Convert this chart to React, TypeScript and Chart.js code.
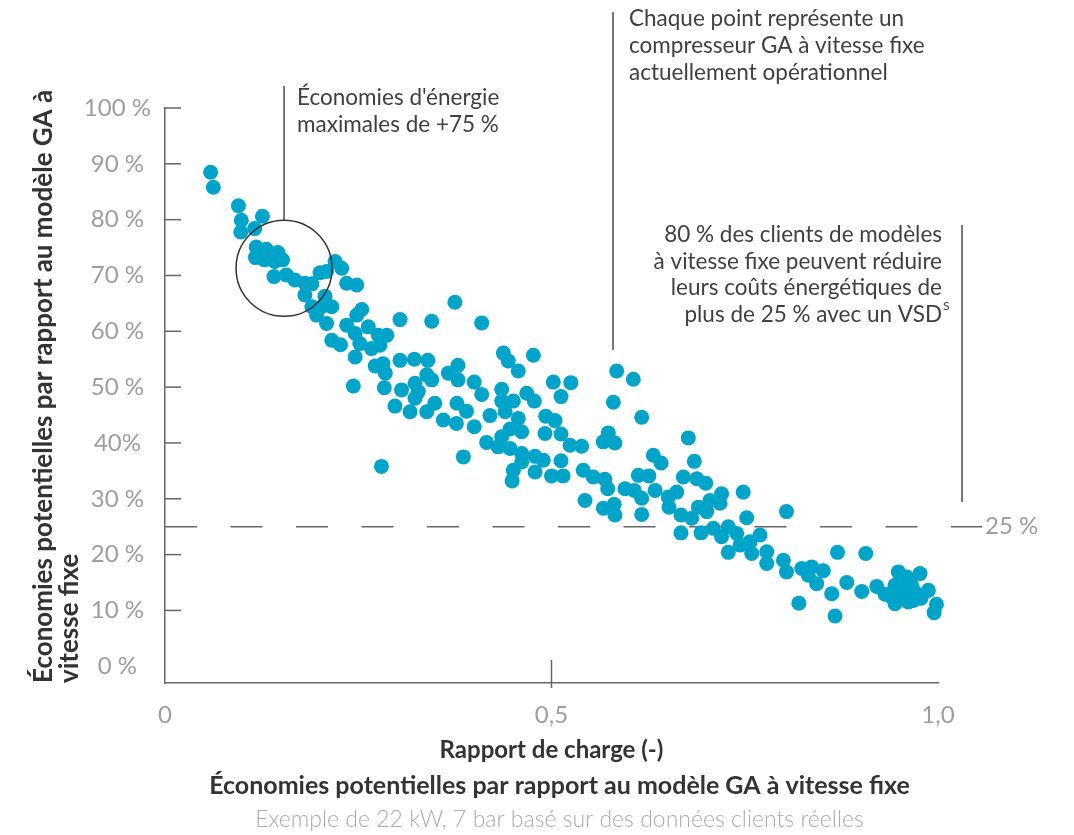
import React, { useEffect, useRef } from 'react';
import { Chart, registerables } from 'chart.js';

Chart.register(...registerables);

// ---- Data ----
const loadRatio = [
  0.059, 0.0625, 0.095, 0.0987, 0.126, 0.098, 0.116, 0.118, 0.117, 0.131,
  0.146, 0.129, 0.142, 0.152, 0.141, 0.157, 0.168, 0.181, 0.19, 0.181,
  0.2005, 0.209, 0.22, 0.2286, 0.207, 0.19, 0.2027, 0.2157, 0.196, 0.209,
  0.2157, 0.227, 0.235, 0.248, 0.375, 0.2545, 0.248, 0.304, 0.345, 0.235,
  0.263, 0.246, 0.276, 0.287, 0.252, 0.267, 0.278, 0.246, 0.272, 0.282,
  0.285, 0.304, 0.3225, 0.34, 0.379, 0.2436, 0.2837, 0.306, 0.3234, 0.3386,
  0.3277, 0.345, 0.3665, 0.379, 0.2975, 0.317, 0.3386, 0.3234, 0.349, 0.36,
  0.3777, 0.377, 0.386, 0.28, 0.4097, 0.4377, 0.444, 0.4765, 0.457, 0.4,
  0.4097, 0.4356, 0.4356, 0.4506, 0.468, 0.4778, 0.5023, 0.525, 0.5123, 0.39,
  0.4204, 0.44, 0.457, 0.4463, 0.4614, 0.4, 0.416, 0.4356, 0.431, 0.4463,
  0.4614, 0.4614, 0.4787, 0.4894, 0.4925, 0.5045, 0.4916, 0.5123, 0.524, 0.539,
  0.5123, 0.4787, 0.5, 0.515, 0.4506, 0.449, 0.541, 0.5433, 0.5843, 0.6058,
  0.58, 0.6167, 0.5735, 0.567, 0.582, 0.677, 0.6317, 0.6417, 0.6847, 0.554,
  0.569, 0.5727, 0.6123, 0.626, 0.6705, 0.688, 0.595, 0.607, 0.6167, 0.634,
  0.662, 0.651, 0.652, 0.567, 0.581, 0.582, 0.6167, 0.6675, 0.6814, 0.69,
  0.6675, 0.6934, 0.6995, 0.72, 0.748, 0.705, 0.718, 0.7008, 0.7525, 0.804,
  0.7093, 0.72, 0.7287, 0.7396, 0.7287, 0.7439, 0.7568, 0.7697, 0.759, 0.7784,
  0.7784, 0.8, 0.804, 0.8237, 0.8366, 0.8322, 0.843, 0.82, 0.87, 0.9065,
  0.8516, 0.882, 0.8625, 0.9013, 0.9207, 0.9314, 0.8668, 0.9487, 0.9595, 0.9767,
  0.9444, 0.955, 0.966, 0.97, 0.9875, 0.94, 0.953, 0.968, 0.9444, 0.9616,
  0.998, 0.995, 0.978,
];

const savings = [
  88.5, 85.8, 82.5, 79.9, 80.6, 77.8, 78.4, 75.1, 73.2, 74.7,
  74.1, 72.8, 72.5, 72.8, 69.8, 70.1, 69.2, 68.6, 68.5, 66.5,
  70.5, 70.7, 72.5, 71.3, 66.3, 64.4, 64.4, 64.4, 62.9, 61.4,
  58.4, 57.6, 68.6, 68.3, 65.2, 63.9, 62.9, 62.1, 61.8, 61.1,
  60.8, 59.6, 59.3, 59.3, 57.8, 56.9, 57.5, 55.4, 53.8, 54.2,
  52.5, 54.8, 55.0, 54.8, 53.9, 50.2, 49.9, 49.5, 50.7, 52.2,
  49.2, 51.3, 52.5, 51.3, 46.6, 45.6, 45.6, 48.0, 47.1, 44.1,
  47.1, 43.5, 37.5, 35.8, 61.5, 56.1, 54.7, 55.7, 52.9, 50.9,
  48.7, 49.6, 47.5, 47.5, 48.9, 47.5, 50.9, 50.8, 48.3, 45.7,
  44.9, 45.6, 44.4, 42.5, 42.0, 42.9, 40.1, 41.1, 39.3, 39.0,
  38.1, 36.6, 37.6, 36.9, 44.8, 44.0, 41.7, 41.6, 39.6, 39.4,
  36.8, 34.8, 34.1, 34.1, 35.1, 33.2, 35.1, 29.7, 52.9, 51.4,
  47.3, 44.6, 41.8, 40.2, 40.0, 40.9, 37.8, 36.4, 36.7, 33.9,
  33.5, 31.8, 34.2, 34.1, 33.9, 33.6, 31.8, 31.5, 30.1, 31.5,
  31.2, 30.3, 28.5, 28.3, 29.0, 27.1, 27.2, 27.1, 26.5, 28.5,
  23.9, 23.9, 32.8, 30.9, 31.2, 29.7, 29.2, 27.7, 26.6, 27.7,
  24.7, 23.2, 25.0, 23.8, 20.4, 21.7, 22.3, 23.5, 20.2, 20.5,
  18.4, 19.0, 16.9, 17.5, 17.8, 16.3, 14.8, 11.3, 20.4, 20.2,
  17.1, 15.0, 13.0, 13.4, 14.3, 12.9, 9.0, 16.9, 16.0, 16.6,
  14.5, 14.2, 14.5, 13.3, 13.6, 12.4, 12.4, 11.8, 11.2, 11.5,
  11.1, 9.6, 12.2,
];

const yTickValues = [0, 10, 20, 30, 40, 50, 60, 70, 80, 90, 100];
const yTickLabels = ['0 %', '10 %', '20 %', '30 %', '40%', '50 %', '60 %', '70 %', '80 %', '90 %', '100 %'];
const xTickValues = [0, 0.5, 1];
const xTickLabels = ['0', '0,5', '1,0'];

const yAxisTitle = ['Économies potentielles par rapport au modèle GA à', 'vitesse fixe'];
const xAxisTitle = 'Rapport de charge (-)';
const chartTitle = 'Économies potentielles par rapport au modèle GA à vitesse fixe';
const chartSubtitle = 'Exemple de 22 kW, 7 bar basé sur des données clients réelles';

const noteMaxLines = ["Économies d'énergie", 'maximales de +75 %'];
const notePointLines = ['Chaque point représente un', 'compresseur GA à vitesse fixe', 'actuellement opérationnel'];
const noteVsdLines = ['80 % des clients de modèles', 'à vitesse fixe peuvent réduire', 'leurs coûts énergétiques de', 'plus de 25 % avec un VSD'];
const noteVsdSup = 'S';

const thresholdValue = 25;
const thresholdLabel = '25 %';
const maxSavingsLoad = 0.154;
const maxSavingsValue = 71.3;

const FONT = 'Lato, "Noto Sans", sans-serif';
const POINT_COLOR = '#00a4c8';
const AXIS_COLOR = '#666666';
const TICK_TEXT = '#9d9d9d';
const DARK_TEXT = '#333333';
const NOTE_TEXT = '#404040';

const annotationPlugin = {
  id: 'annotationPlugin',
  beforeDatasetsDraw(chart: any) {
    const { ctx, chartArea, scales } = chart;
    const x = scales.x;
    const y = scales.y;
    ctx.save();
    ctx.strokeStyle = AXIS_COLOR;
    ctx.lineWidth = 1.5;
    // inner y ticks
    yTickValues.forEach((v) => {
      if (v === 0) return;
      const py = y.getPixelForValue(v);
      ctx.beginPath();
      ctx.moveTo(chartArea.left, py);
      ctx.lineTo(chartArea.left + 16, py);
      ctx.stroke();
    });
    // middle x tick
    const mx = x.getPixelForValue(0.5);
    ctx.beginPath();
    ctx.moveTo(mx, chartArea.bottom - 23);
    ctx.lineTo(mx, chartArea.bottom + 5);
    ctx.stroke();
    // threshold dashed line
    const ty = y.getPixelForValue(thresholdValue);
    ctx.setLineDash([32, 33.5]);
    ctx.beginPath();
    ctx.moveTo(chartArea.left, ty);
    ctx.lineTo(982, ty);
    ctx.stroke();
    ctx.setLineDash([]);
    ctx.fillStyle = TICK_TEXT;
    ctx.font = `24px ${FONT}`;
    ctx.textAlign = 'left';
    ctx.textBaseline = 'middle';
    ctx.fillText(thresholdLabel, 985, ty);

    // rotated y-axis title, starting at the bottom of the axis
    ctx.save();
    ctx.translate(44, chartArea.bottom);
    ctx.rotate(-Math.PI / 2);
    ctx.fillStyle = DARK_TEXT;
    ctx.font = `bold 26px ${FONT}`;
    ctx.textAlign = 'left';
    ctx.textBaseline = 'middle';
    yAxisTitle.forEach((t, i) => ctx.fillText(t, 0, i * 26));
    ctx.restore();
    ctx.restore();
  },
  afterDatasetsDraw(chart: any) {
    const { ctx, scales } = chart;
    const x = scales.x;
    const y = scales.y;
    ctx.save();
    // circle around the maximum savings cluster
    const cx = x.getPixelForValue(maxSavingsLoad);
    const cy = y.getPixelForValue(maxSavingsValue);
    const r = 48;
    ctx.strokeStyle = '#333333';
    ctx.lineWidth = 1.5;
    ctx.beginPath();
    ctx.arc(cx, cy, r, 0, Math.PI * 2);
    ctx.stroke();
    ctx.strokeStyle = '#4a4a4a';
    ctx.beginPath();
    ctx.moveTo(cx, 86);
    ctx.lineTo(cx, cy - r);
    ctx.stroke();

    // leader lines for the other notes
    ctx.beginPath();
    ctx.moveTo(613, 12);
    ctx.lineTo(613, 350);
    ctx.stroke();
    ctx.beginPath();
    ctx.moveTo(962, 225);
    ctx.lineTo(962, 502);
    ctx.stroke();

    ctx.fillStyle = NOTE_TEXT;
    ctx.font = `22.5px ${FONT}`;
    ctx.textBaseline = 'middle';
    ctx.textAlign = 'left';
    noteMaxLines.forEach((t, i) => ctx.fillText(t, cx + 13, 98 + i * 27));
    notePointLines.forEach((t, i) => ctx.fillText(t, 629, 19 + i * 27));
    ctx.textAlign = 'right';
    noteVsdLines.forEach((t, i) => ctx.fillText(t, 942, 235 + i * 26.5));
    ctx.textAlign = 'left';
    ctx.font = `12px ${FONT}`;
    ctx.fillText(noteVsdSup, 943, 235 + 3 * 26.5 - 8);

    // bottom titles
    ctx.textAlign = 'center';
    ctx.fillStyle = DARK_TEXT;
    ctx.font = `bold 25px ${FONT}`;
    ctx.fillText(chartTitle, 559.5, 786);
    ctx.fillStyle = '#ababab';
    ctx.font = `300 23px ${FONT}`;
    ctx.fillText(chartSubtitle, 559.5, 820);
    ctx.restore();
  },
};

export default function App() {
  const canvasRef = useRef<HTMLCanvasElement>(null);

  useEffect(() => {
    const canvas = canvasRef.current;
    if (!canvas) return;
    const points = loadRatio.map((lr, i) => ({ x: lr, y: savings[i] }));
    const chart = new Chart(canvas, {
      type: 'scatter',
      data: {
        datasets: [
          {
            data: points,
            backgroundColor: POINT_COLOR,
            borderWidth: 0,
            pointRadius: 7.5,
            pointHoverRadius: 7.5,
            clip: false as any,
          },
        ],
      },
      options: {
        responsive: false,
        devicePixelRatio: 1,
        animation: false,
        events: [],
        layout: { padding: { left: 0, top: 108, right: 136, bottom: 70 } },
        plugins: {
          legend: { display: false },
          tooltip: { enabled: false },
          title: { display: false },
        },
        scales: {
          x: {
            type: 'linear',
            min: 0,
            max: 1,
            afterBuildTicks: (scale: any) => {
              scale.ticks = xTickValues.map((v) => ({ value: v }));
            },
            afterFit: (scale: any) => {
              scale.height = 82;
            },
            grid: { display: false, drawTicks: false },
            border: { display: true, color: AXIS_COLOR, width: 1.5 },
            ticks: {
              autoSkip: false,
              maxRotation: 0,
              padding: 18,
              color: TICK_TEXT,
              font: { family: FONT, size: 24 },
              callback: (value: any) => {
                const i = xTickValues.indexOf(Number(value));
                return i >= 0 ? xTickLabels[i] : '';
              },
            },
            title: {
              display: true,
              text: xAxisTitle,
              color: DARK_TEXT,
              font: { family: FONT, size: 24, weight: 'bold' },
              padding: { top: 0, bottom: 0 },
            },
          },
          y: {
            type: 'linear',
            min: -3,
            max: 100,
            afterBuildTicks: (scale: any) => {
              scale.ticks = yTickValues.map((v) => ({ value: v }));
            },
            afterFit: (scale: any) => {
              scale.width = 165;
            },
            grid: { display: false, drawTicks: false },
            border: { display: true, color: AXIS_COLOR, width: 1.5 },
            ticks: {
              autoSkip: false,
              padding: 14,
              crossAlign: 'center',
              color: TICK_TEXT,
              font: { family: FONT, size: 24 },
              callback: (value: any) => {
                const i = yTickValues.indexOf(Number(value));
                return i >= 0 ? yTickLabels[i] : '';
              },
            },
            title: { display: false },
          },
        },
      } as any,
      plugins: [annotationPlugin],
    });
    return () => chart.destroy();
  }, []);

  return (
    <div style={{ position: 'fixed', left: 0, top: 0, width: 1074, height: 835, background: '#ffffff' }}>
      <canvas ref={canvasRef} width={1074} height={835} style={{ display: 'block', width: 1074, height: 835 }} />
    </div>
  );
}
